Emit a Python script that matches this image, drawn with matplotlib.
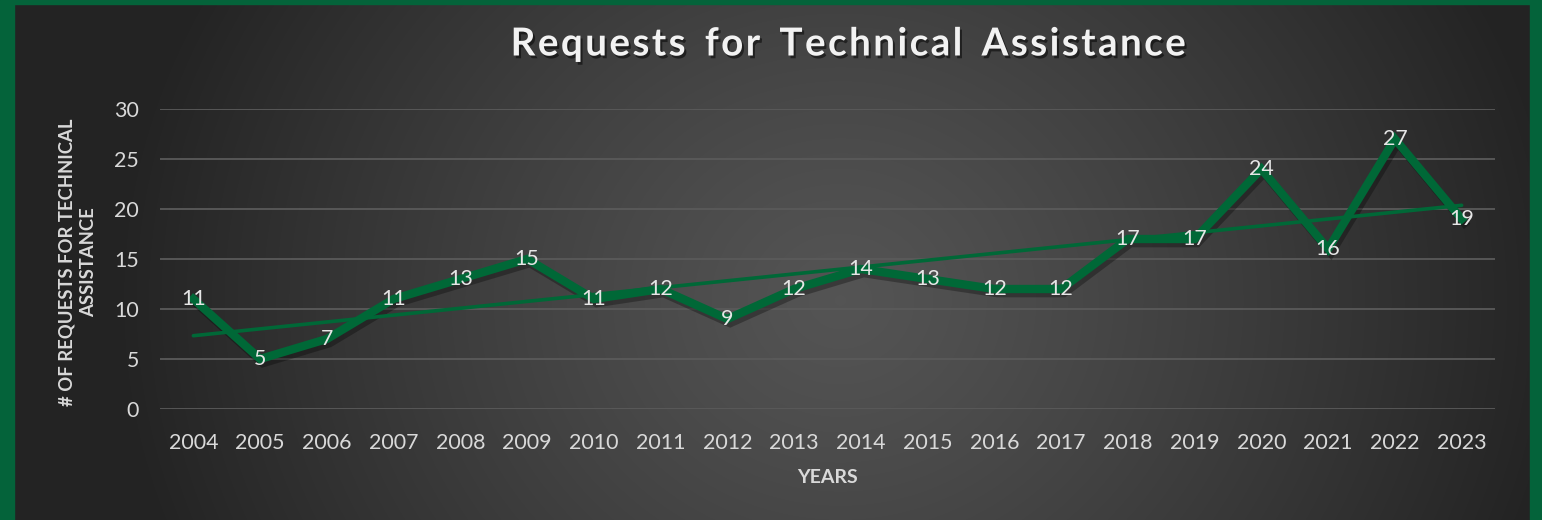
import numpy as np
import matplotlib
matplotlib.use("Agg")
import matplotlib.pyplot as plt
import matplotlib.patheffects as pe

years = ["2004", "2005", "2006", "2007", "2008", "2009", "2010", "2011", "2012", "2013",
         "2014", "2015", "2016", "2017", "2018", "2019", "2020", "2021", "2022", "2023"]
requests = [11, 5, 7, 11, 13, 15, 11, 12, 9, 12, 14, 13, 12, 12, 17, 17, 24, 16, 27, 19]
y_ticks = [0, 5, 10, 15, 20, 25, 30]

W, H = 1542, 520
fig = plt.figure(figsize=(W / 100, H / 100), dpi=100)
plt.rcParams['font.family'] = ['Lato', 'DejaVu Sans']

# background gradient
bg = fig.add_axes([0, 0, 1, 1], zorder=0)
yy, xx = np.mgrid[0:H, 0:W]
cx, cy = 840, 300
r = np.sqrt(((xx - cx) / 720.0) ** 2 + ((yy - cy) / 650.0) ** 2)
r = np.clip(r, 0, 1)
lo, hi = 0.14, 0.33
val = hi - (hi - lo) * r ** 1.2
img = np.dstack([val, val, val])
bg.imshow(img, extent=[0, W, H, 0], aspect='auto', interpolation='bilinear')
green_border = '#04633A'
bg.add_patch(plt.Rectangle((0, 0), 14, H, color=green_border))
bg.add_patch(plt.Rectangle((0, 0), W, 4, color=green_border))
bg.add_patch(plt.Rectangle((1530, 0), W - 1530, H, color=green_border))
bg.set_xlim(0, W)
bg.set_ylim(H, 0)
bg.axis('off')

# main axes: left 160, right 1495, y0 at 409, y30 at 109
left, right = 160 / W, 1495 / W
bottom = (H - 409) / H
top = (H - 109) / H
ax = fig.add_axes([left, bottom, right - left, top - bottom], zorder=1)
ax.patch.set_alpha(0)
x = np.arange(len(years))
ax.set_xlim(-0.5, len(years) - 0.5)
ax.set_ylim(0, 30)
ax.set_yticks(y_ticks)
ax.set_xticks(x)
ax.set_xticklabels(years)
for s in ax.spines.values():
    s.set_visible(False)
ax.grid(axis='y', color='#5a5a5a', lw=1.3, zorder=0)
ax.tick_params(length=0, colors='#d9d9d9', labelsize=15.4)
ax.tick_params(axis='y', pad=15)
ax.tick_params(axis='x', pad=17)

line_color = '#006837'
shadow = [pe.SimpleLineShadow(offset=(2, -3), shadow_color='black', alpha=0.3), pe.Normal()]
ax.plot(x, requests, color=line_color, lw=6, solid_joinstyle='miter', zorder=3,
        path_effects=shadow)

coef = np.polyfit(x, requests, 1)
trend = np.polyval(coef, x)
ax.plot([x[0], x[-1]], [trend[0], trend[-1]], color=line_color, lw=2.6, zorder=4,
        solid_capstyle='round')

for xi, v in zip(x, requests):
    ax.text(xi, v, str(v), ha='center', va='center', color='#e6e6e6', fontsize=15.4, zorder=5)

ax.set_xlabel('YEARS', color='#d9d9d9', fontsize=14, fontweight='bold', labelpad=12)
fig.text(78 / W, 1 - 262 / H, '# OF REQUESTS FOR TECHNICAL\nASSISTANCE', rotation=90,
         ha='center', va='center', color='#d9d9d9', fontsize=13.3, fontweight='bold',
         linespacing=1.3)

title = 'R e q u e s t s   f o r   T e c h n i c a l   A s s i s t a n c e'.replace('   ', '\u2002').replace(' ', '\u200a')
fig.text(848 / W, 1 - 44 / H, title,
         ha='center', va='center', color='#f2f2f2', fontsize=27.8, fontweight='bold',
         path_effects=[pe.withSimplePatchShadow(offset=(1.5, -2), shadow_rgbFace='black', alpha=0.5)])

fig.savefig('out.png', dpi=100)
